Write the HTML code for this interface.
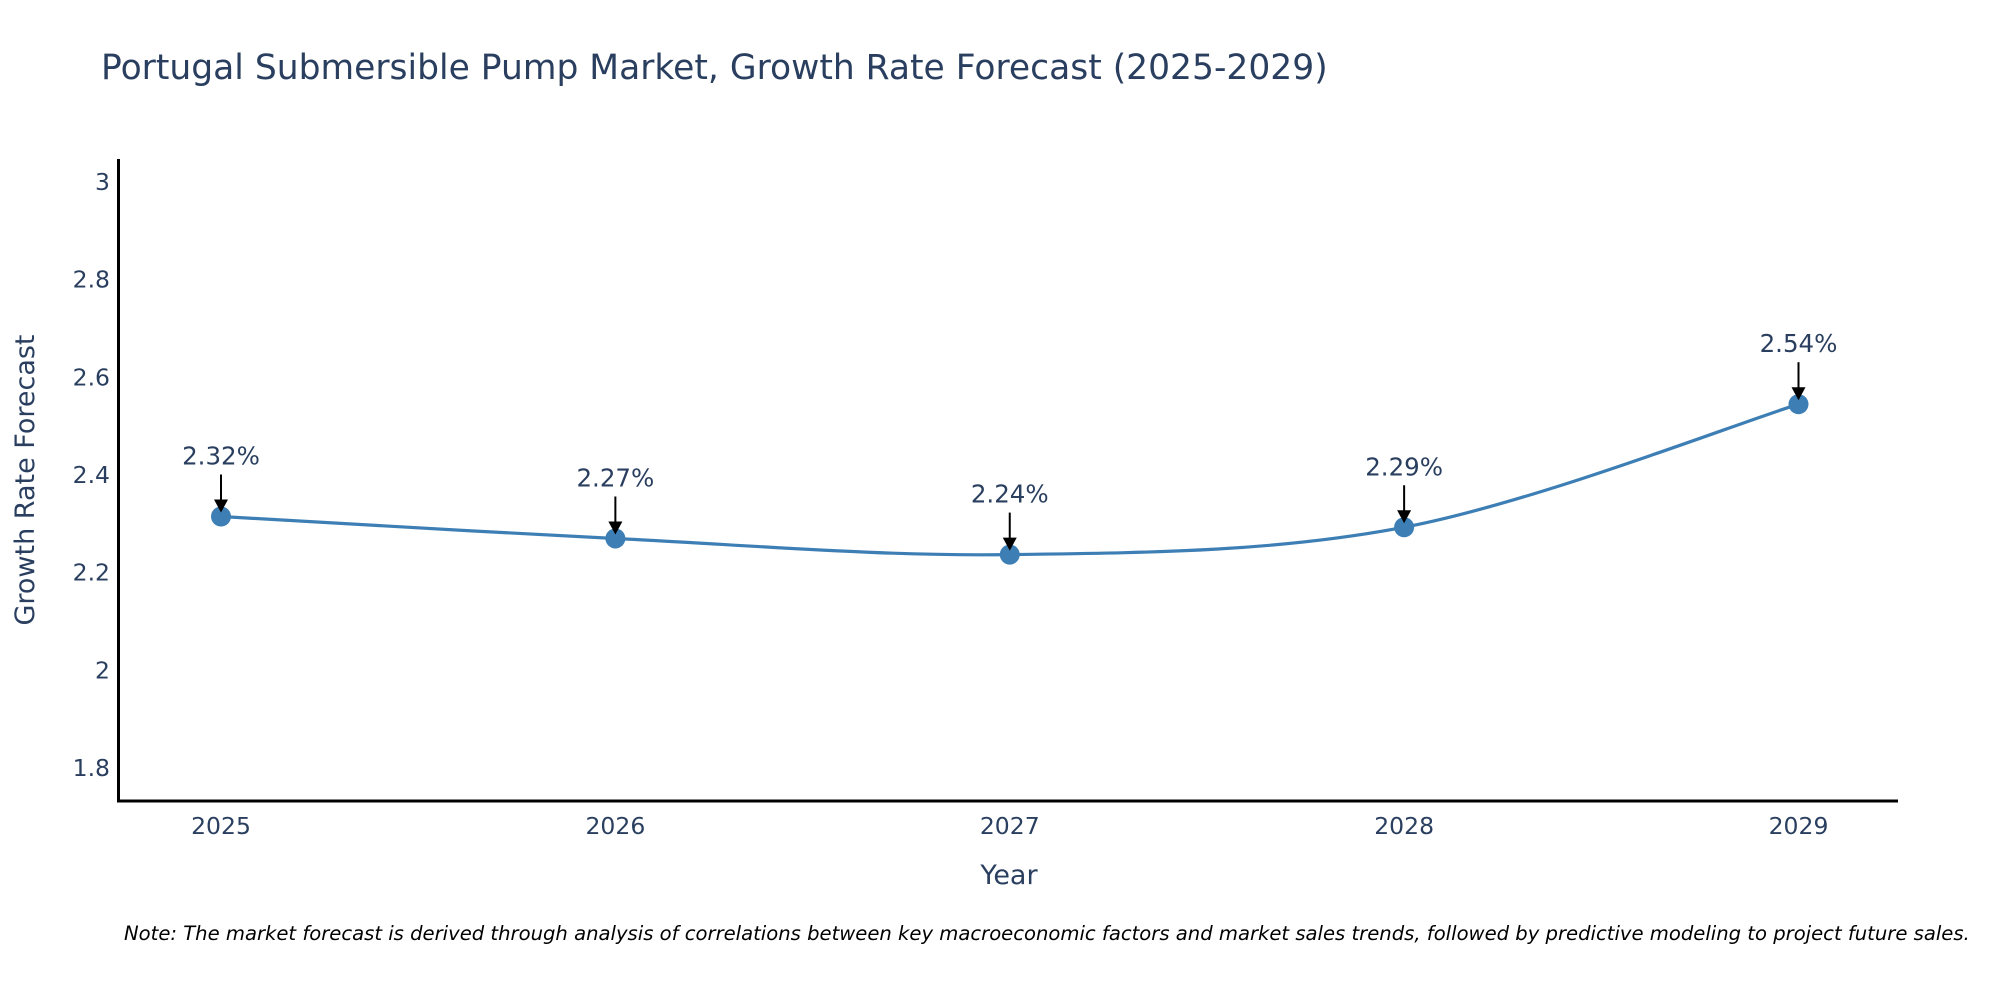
<!DOCTYPE html>
<html><head><meta charset="utf-8"><style>
body{margin:0;background:#fff;}
svg{display:block;font-family:"DejaVu Sans","Liberation Sans",sans-serif;}
</style></head><body>
<svg id="chart" width="2000" height="1000" viewBox="0 0 2000 1000">
<text x="101" y="79" font-size="34.5" fill="#2a3f5f">Portugal Submersible Pump Market, Growth Rate Forecast (2025-2029)</text>
<g id="yticks"></g>
<g id="xticks"></g>
<line x1="118.5" y1="159" x2="118.5" y2="802" stroke="#000" stroke-width="3"/>
<line x1="117" y1="801" x2="1898" y2="801" stroke="#000" stroke-width="3"/>
<text x="1009" y="884" font-size="27" fill="#2a3f5f" text-anchor="middle">Year</text>
<text transform="translate(34,480) rotate(-90)" font-size="27" fill="#2a3f5f" text-anchor="middle">Growth Rate Forecast</text>
<path id="line" fill="none" stroke="#3d7fb5" stroke-width="3.2"/>
<g id="marks"></g>
<text x="124" y="940" font-size="19.6" font-style="italic" fill="#000">Note: The market forecast is derived through analysis of correlations between key macroeconomic factors and market sales trends, followed by predictive modeling to project future sales.</text>
</svg>
<script>
const years = ["2025","2026","2027","2028","2029"];
const values = [2.315, 2.27, 2.237, 2.293, 2.545];
const valueLabels = ["2.32%","2.27%","2.24%","2.29%","2.54%"];
const yTicks = [1.8, 2, 2.2, 2.4, 2.6, 2.8, 3];
const yTickLabels = ["1.8","2","2.2","2.4","2.6","2.8","3"];

const NS="http://www.w3.org/2000/svg";
const X0=221, X1=1798.5;
const xS=i=>X0+(X1-X0)*i/(years.length-1);
const yS=v=>182+(3-v)/1.2*(768-182);
function mk(tag,attrs,parent){const e=document.createElementNS(NS,tag);for(const k in attrs)e.setAttribute(k,attrs[k]);parent.appendChild(e);return e;}
const yt=document.getElementById('yticks');
yTicks.forEach((t,i)=>{const e=mk('text',{x:110,y:yS(t)+8,'font-size':23.5,fill:'#2a3f5f','text-anchor':'end'},yt);e.textContent=yTickLabels[i];

});
const xt=document.getElementById('xticks');
years.forEach((y,i)=>{const e=mk('text',{x:xS(i),y:834,'font-size':23.5,fill:'#2a3f5f','text-anchor':'middle'},xt);e.textContent=y;

});
const pts=values.map((v,i)=>[xS(i),yS(v)]);
let d=`M${pts[0][0]},${pts[0][1]}`;
for(let i=0;i<pts.length-1;i++){const p0=pts[Math.max(0,i-1)],p1=pts[i],p2=pts[i+1],p3=pts[Math.min(pts.length-1,i+2)];
const t=1/6;d+=` C${p1[0]+(p2[0]-p0[0])*t},${p1[1]+(p2[1]-p0[1])*t} ${p2[0]-(p3[0]-p1[0])*t},${p2[1]-(p3[1]-p1[1])*t} ${p2[0]},${p2[1]}`;}
document.getElementById('line').setAttribute('d',d);
const g=document.getElementById('marks');
pts.forEach((p,i)=>{
const c=mk('circle',{cx:p[0],cy:p[1],r:10,fill:'#3d7fb5'},g);


const l=mk('line',{x1:p[0],y1:p[1]-42,x2:p[0],y2:p[1]-14,stroke:'#000','stroke-width':2},g);


const a=mk('polygon',{points:`${p[0]-7},${p[1]-17} ${p[0]+7},${p[1]-17} ${p[0]},${p[1]-4}`,fill:'#000'},g);


const t=mk('text',{x:p[0],y:p[1]-52,'font-size':24.5,fill:'#2a3f5f','text-anchor':'middle'},g);t.textContent=valueLabels[i];


});
</script>
</body></html>
